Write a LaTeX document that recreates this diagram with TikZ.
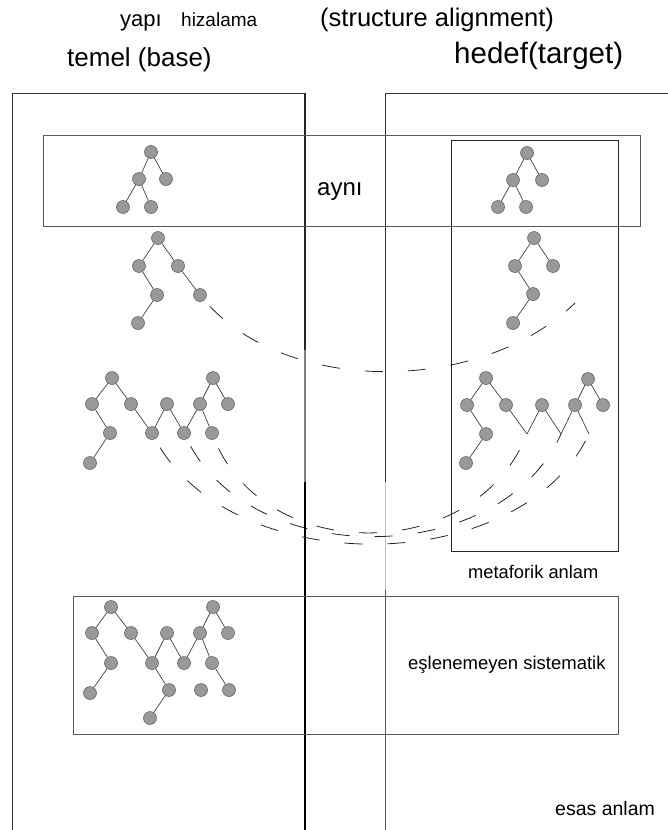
\documentclass[tikz,border=0pt]{standalone}
\usepackage{fontspec}
\setmainfont{Liberation Sans}
\begin{document}
\begin{tikzpicture}[x=1pt,y=-1pt,
  tn/.style={circle,draw=black!65,fill=black!40,line width=0.5pt,minimum size=13pt,inner sep=0pt},
  te/.style={draw=black!75,line width=0.7pt},
  frame/.style={draw=black!80,line width=0.8pt},
  dsh/.style={draw=black!85,line width=0.8pt,dash pattern=on 18pt off 25pt},
  lbl/.style={inner sep=0pt,anchor=base west}]
\useasboundingbox (0,0) rectangle (668,830);

% frames
\draw[frame] (12,830) -- (12,93) -- (305,93);
\draw[black!85,line width=1.1pt] (305,93) -- (305,350);
\draw[black!50,line width=1.5pt] (305,350) -- (305,482);
\draw[black,line width=1.5pt] (305,482) -- (305,830);
\draw[frame] (668,93) -- (385,93) -- (385,482);
\draw[black!25,line width=0.6pt] (385,482) -- (385,590);
\draw[black!65,line width=0.8pt] (385,590) -- (385,830);

% boxes
\draw[black!65,line width=0.8pt] (43,135) rectangle (640,226);
\draw[black!85,line width=0.9pt] (451,140) rectangle (618,551);
\draw[black!65,line width=0.8pt] (73,596) rectangle (618,734);

% texts
\node[lbl,font=\fontsize{22}{26}\selectfont] (tyapi) at (120,26) {yapı};
\node[lbl,font=\fontsize{19}{22}\selectfont] (thiz) at (181,26) {hizalama};
\node[lbl,font=\fontsize{25.5}{30}\selectfont] (tstr) at (320,26) {(structure alignment)};
\node[lbl,font=\fontsize{26}{30}\selectfont] (ttemel) at (67,66) {temel (base)};
\node[lbl,font=\fontsize{29.5}{34}\selectfont] (thedef) at (454,63) {hedef(target)};
\node[lbl,font=\fontsize{24}{28}\selectfont] (tayni) at (317,195) {aynı};
\node[lbl,font=\fontsize{18.3}{22}\selectfont] (tmeta) at (468,578) {metaforik anlam};
\node[lbl,font=\fontsize{18.5}{22}\selectfont] (tesl) at (408,669) {eşlenemeyen sistematik};
\node[lbl,font=\fontsize{19.5}{22}\selectfont] (tesas) at (555,815) {esas anlam};

% tree 1 left
\node[tn] (aR) at (151,152) {};
\node[tn] (aA) at (139,179) {};
\node[tn] (aB) at (166,179) {};
\node[tn] (aC) at (123,207) {};
\node[tn] (aD) at (151,207) {};
\draw[te] (aR) -- (aA) (aR) -- (aB) (aA) -- (aC) (aA) -- (aD);
% tree 1 right
\node[tn] (bR) at (527,153) {};
\node[tn] (bA) at (513,180) {};
\node[tn] (bB) at (542,180) {};
\node[tn] (bC) at (498,207) {};
\node[tn] (bD) at (526,207) {};
\draw[te] (bR) -- (bA) (bR) -- (bB) (bA) -- (bC) (bA) -- (bD);

% tree 2 left
\node[tn] (cR) at (158,238) {};
\node[tn] (cA) at (139,266) {};
\node[tn] (cB) at (178,266) {};
\node[tn] (cC) at (157,295) {};
\node[tn] (cD) at (200,295) {};
\node[tn] (cE) at (138,323) {};
\draw[te] (cR) -- (cA) (cR) -- (cB) (cA) -- (cC) (cC) -- (cE) (cB) -- (cD);
% tree 2 right
\node[tn] (dR) at (534,238) {};
\node[tn] (dA) at (515,266) {};
\node[tn] (dB) at (553,266) {};
\node[tn] (dC) at (533,294) {};
\node[tn] (dE) at (513,323) {};
\draw[te] (dR) -- (dA) (dR) -- (dB) (dA) -- (dC) (dC) -- (dE);

% tree 3 left
\node[tn] (eA) at (112,378) {};
\node[tn] (eB) at (92,404) {};
\node[tn] (eC) at (131,404) {};
\node[tn] (eD) at (110,433) {};
\node[tn] (eE) at (90,463) {};
\node[tn] (eF) at (152,433) {};
\node[tn] (eG) at (167,404) {};
\node[tn] (eH) at (184,433) {};
\node[tn] (eI) at (200,404) {};
\node[tn] (eJ) at (213,378) {};
\node[tn] (eK) at (228,404) {};
\node[tn] (eL) at (212,433) {};
\draw[te] (eA) -- (eB) (eA) -- (eC) (eB) -- (eD) (eD) -- (eE) (eC) -- (eF)
  (eF) -- (eG) (eG) -- (eH) (eH) -- (eI) (eI) -- (eJ) (eJ) -- (eK) (eI) -- (eL);
% tree 3 right
\node[tn] (fA) at (486,378) {};
\node[tn] (fB) at (467,405) {};
\node[tn] (fC) at (506,405) {};
\node[tn] (fD) at (486,434) {};
\node[tn] (fE) at (466,463) {};
\node[tn] (fG) at (542,405) {};
\node[tn] (fI) at (575,405) {};
\node[tn] (fJ) at (588,379) {};
\node[tn] (fK) at (603,405) {};
\coordinate (fV1) at (527,434);
\coordinate (fV2) at (561,434);
\coordinate (fW) at (589,434);
\draw[te] (fA) -- (fB) (fA) -- (fC) (fB) -- (fD) (fD) -- (fE) (fC) -- (fV1)
  (fV1) -- (fG) (fG) -- (fV2) (fV2) -- (fI) (fI) -- (fJ) (fJ) -- (fK) (fI) -- (fW);

% tree 4 (bottom)
\node[tn] (gA) at (111,607) {};
\node[tn] (gB) at (92,633) {};
\node[tn] (gC) at (131,633) {};
\node[tn] (gD) at (111,663) {};
\node[tn] (gE) at (90,693) {};
\node[tn] (gF) at (152,663) {};
\node[tn] (gG) at (167,633) {};
\node[tn] (gH) at (184,663) {};
\node[tn] (gI) at (200,633) {};
\node[tn] (gJ) at (213,607) {};
\node[tn] (gK) at (228,633) {};
\node[tn] (gL) at (212,663) {};
\node[tn] (gM) at (169,690) {};
\node[tn] (gN) at (150,718) {};
\node[tn] (gO) at (201,690) {};
\node[tn] (gP) at (229,690) {};
\draw[te] (gA) -- (gB) (gA) -- (gC) (gB) -- (gD) (gD) -- (gE) (gC) -- (gF)
  (gF) -- (gG) (gG) -- (gH) (gH) -- (gI) (gI) -- (gJ) (gJ) -- (gK) (gI) -- (gL)
  (gF) -- (gM) (gM) -- (gN) (gL) -- (gP);

% dashed mapping curves
\coordinate (c1end) at (575,303);
\draw[dsh,dash phase=-8pt] (cD) .. controls (285,395) and (480,395) .. (c1end);
\draw[dsh,dash phase=-10pt] (eF) .. controls (230,580) and (520,580) .. (fW);
\draw[dsh,dash phase=-8pt] (eH) .. controls (250,570) and (500,570) .. (fV2);
\draw[dsh,dash phase=-10pt] (eL) .. controls (265,565) and (475,565) .. (fV1);
\end{tikzpicture}
\end{document}
